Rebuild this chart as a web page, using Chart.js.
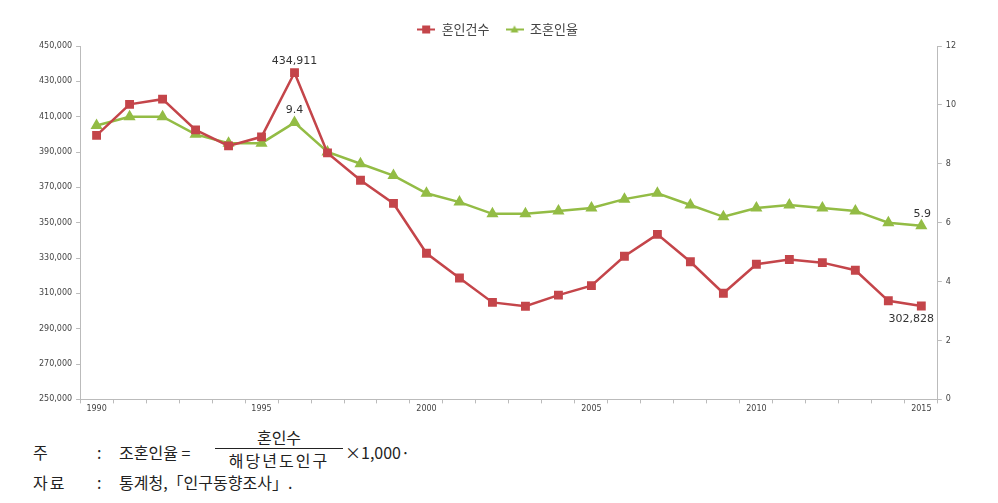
<!DOCTYPE html>
<html>
<head>
<meta charset="utf-8">
<script src="https://cdn.jsdelivr.net/npm/chart.js@4.4.1/dist/chart.umd.min.js"></script>
<style>
  body { margin: 0; background: #fff; }
  #wrap { position: relative; width: 998px; height: 503px; }
  #box { position: absolute; left: 0; top: 0; width: 998px; height: 418px; }
  .note { position: absolute; font-family: "Noto Sans CJK KR", sans-serif; font-size: 16px; color: #222; white-space: nowrap; }
  .frac { position: absolute; text-align: center; font-family: "Noto Sans CJK KR", sans-serif; font-size: 16px; color: #222; }
</style>
</head>
<body>
<div id="wrap">
  <div id="box"><canvas id="c"></canvas></div>

  <div class="note" style="left:33px; top:440px;">주</div>
  <div class="note" style="left:97px; top:440px;">:</div>
  <div class="note" style="left:119px; top:440px;">조혼인율 =</div>
  <div class="frac" style="left:215px; top:425px; width:128px;">혼인수</div>
  <div style="position:absolute; left:215px; top:448px; width:128px; height:1px; background:#222;"></div>
  <div class="frac" style="left:215px; top:448px; width:128px; letter-spacing:2px;">해당년도인구</div>
  <div class="note" style="left:345px; top:440px;">×1,000·</div>

  <div class="note" style="left:33px; top:470px; letter-spacing:2px;">자료</div>
  <div class="note" style="left:97px; top:470px;">:</div>
  <div class="note" style="left:119px; top:470px;">통계청,「인구동향조사」.</div>
</div>
<script>
const years = [1990, 1991, 1992, 1993, 1994, 1995, 1996, 1997, 1998, 1999,
  2000, 2001, 2002, 2003, 2004, 2005, 2006, 2007, 2008, 2009,
  2010, 2011, 2012, 2013, 2014, 2015];
const marriages = [399400, 417000, 419900, 402500, 393500, 398600, 434911, 389500, 374000, 360900,
  332700, 318700, 304900, 302700, 309000, 314400, 331000, 343400, 327900, 310100,
  326500, 329200, 327400, 323100, 305800, 302828];
const crudeRate = [9.3, 9.6, 9.6, 9.0, 8.7, 8.7, 9.4, 8.4, 8.0, 7.6,
  7.0, 6.7, 6.3, 6.3, 6.4, 6.5, 6.8, 7.0, 6.6, 6.2,
  6.5, 6.6, 6.5, 6.4, 6.0, 5.9];
const leftTicks = [250000, 270000, 290000, 310000, 330000, 350000, 370000, 390000, 410000, 430000, 450000];
const rightTicks = [0, 2, 4, 6, 8, 10, 12];

const RED = '#C4454A';
const GREEN = '#93BC45';

function legendIcon(color, shape) {
  const cv = document.createElement('canvas');
  cv.width = 18; cv.height = 10;
  const g = cv.getContext('2d');
  g.strokeStyle = color; g.lineWidth = 2;
  g.beginPath(); g.moveTo(0, 5); g.lineTo(18, 5); g.stroke();
  g.fillStyle = color;
  if (shape === 'rect') {
    g.fillRect(5, 1, 8, 8);
  } else {
    g.beginPath(); g.moveTo(9, 1); g.lineTo(13, 8); g.lineTo(5, 8); g.closePath(); g.fill();
  }
  return cv;
}

// value labels at a few points
const pointLabels = {
  id: 'pointLabels',
  afterDatasetsDraw(chart) {
    const ctx = chart.ctx;
    const put = (ds, i, txt, dx, dy) => {
      const p = chart.getDatasetMeta(ds).data[i];
      ctx.fillText(txt, p.x + dx, p.y + dy);
    };
    ctx.save();
    ctx.font = '11px "DejaVu Sans", sans-serif';
    ctx.fillStyle = '#333';
    ctx.textAlign = 'center';
    ctx.textBaseline = 'middle';
    put(0, 6, '434,911', 0, -12);
    put(1, 6, '9.4', 0, -12);
    put(1, 25, '5.9', 1, -12);
    put(0, 25, '302,828', -10, 13);
    ctx.restore();
  }
};

new Chart(document.getElementById('c'), {
  type: 'line',
  data: {
    labels: years,
    datasets: [
      {
        label: '혼인건수',
        data: marriages,
        yAxisID: 'y',
        borderColor: RED,
        backgroundColor: RED,
        borderWidth: 2.5,
        pointStyle: 'rect',
        pointRadius: 4.5,
        pointHoverRadius: 4.5,
        tension: 0
      },
      {
        label: '조혼인율',
        data: crudeRate,
        yAxisID: 'y1',
        borderColor: GREEN,
        backgroundColor: GREEN,
        borderWidth: 2.5,
        pointStyle: 'triangle',
        pointRadius: 4.5,
        pointHoverRadius: 4.5,
        tension: 0
      }
    ]
  },
  options: {
    responsive: true,
    maintainAspectRatio: false,
    animation: false,
    layout: { padding: { left: 35, right: 38, top: 7, bottom: 3 } },
    plugins: {
      tooltip: { enabled: false },
      legend: {
        position: 'top',
        labels: {
          usePointStyle: true,
          pointStyleWidth: 18,
          padding: 16,
          color: '#444',
          font: { family: '"Noto Sans CJK KR", sans-serif', size: 13 },
          generateLabels(chart) {
            return chart.data.datasets.map((ds, i) => ({
              text: ds.label,
              datasetIndex: i,
              fontColor: '#444',
              pointStyle: legendIcon(ds.borderColor, i === 0 ? 'rect' : 'tri'),
              lineWidth: 0,
              strokeStyle: 'transparent',
              fillStyle: 'transparent',
              hidden: false
            }));
          }
        }
      }
    },
    scales: {
      x: {
        offset: true,
        grid: { display: true, drawOnChartArea: false, offset: true, tickLength: 4, color: '#bbb' },
        border: { color: '#bbb' },
        ticks: {
          autoSkip: false,
          maxRotation: 0,
          padding: 1,
          color: '#444',
          font: { family: '"DejaVu Sans", sans-serif', size: 8 },
          callback(v, i) { return years[i] % 5 === 0 ? String(years[i]) : ''; }
        }
      },
      y: {
        position: 'left',
        min: 250000,
        max: 450000,
        afterBuildTicks(s) { s.ticks = leftTicks.map(v => ({ value: v })); },
        grid: { drawOnChartArea: false, tickLength: 4, color: '#bbb' },
        border: { color: '#bbb' },
        ticks: {
          padding: 4,
          color: '#444',
          font: { family: '"DejaVu Sans", sans-serif', size: 8 },
          callback(v) { return v.toLocaleString('en-US'); }
        }
      },
      y1: {
        position: 'right',
        min: 0,
        max: 12,
        afterBuildTicks(s) { s.ticks = rightTicks.map(v => ({ value: v })); },
        grid: { drawOnChartArea: false, tickLength: 4, color: '#bbb' },
        border: { color: '#bbb' },
        ticks: {
          padding: 4,
          color: '#444',
          font: { family: '"DejaVu Sans", sans-serif', size: 8 }
        }
      }
    }
  },
  plugins: [pointLabels]
});
</script>
</body>
</html>
